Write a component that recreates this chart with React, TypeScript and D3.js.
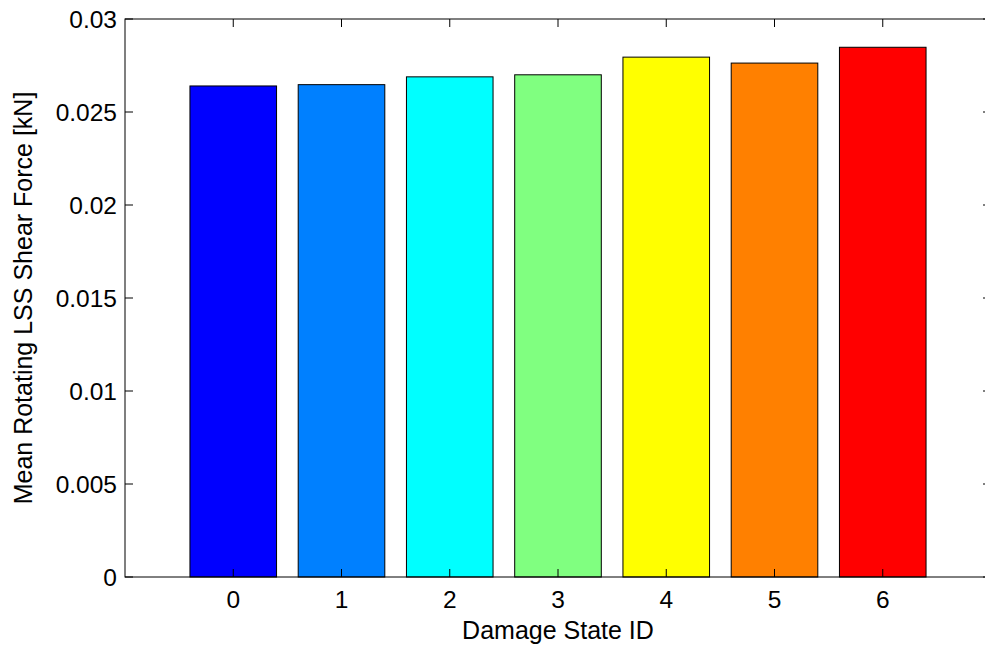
import React from "react";
import * as d3 from "d3";

const categories = [0, 1, 2, 3, 4, 5, 6];
const values = [0.0264, 0.02647, 0.02689, 0.027, 0.02795, 0.02763, 0.02848];
const colors = ["#0000ff", "#0080ff", "#00ffff", "#80ff80", "#ffff00", "#ff8000", "#ff0000"];
const yTicks = [0, 0.005, 0.01, 0.015, 0.02, 0.025, 0.03];
const yTickLabels = ["0", "0.005", "0.01", "0.015", "0.02", "0.025", "0.03"];

export default function App() {
  const W = 985, H = 648;
  const left = 125, right = 991, top = 19, bottom = 577;
  const x = d3.scaleLinear().domain([-1, 7]).range([left, right]);
  const y = d3.scaleLinear().domain([0, 0.03]).range([bottom, top]);
  const bw = x(0.4) - x(0);
  const font = "Arial, 'Liberation Sans', sans-serif";
  const fs = 24.5;
  const lfs = 25;
  const tl = 8;
  return (
    <svg width={W} height={H} style={{ position: "absolute", left: 0, top: 0, background: "#fff" }}>
      <rect x={0} y={0} width={W} height={H} fill="#fff" />
      {categories.map((c, i) => (
        <rect key={c} x={x(c) - bw} y={y(values[i])} width={bw * 2} height={y(0) - y(values[i])}
          fill={colors[i]} stroke="#000" strokeWidth={1} />
      ))}
      <rect x={left} y={top} width={right - left} height={bottom - top} fill="none" stroke="#000" strokeWidth={1} />
      {categories.map((c) => (
        <g key={"xt" + c}>
          <line x1={x(c)} x2={x(c)} y1={bottom} y2={bottom - tl} stroke="#000" />
          <line x1={x(c)} x2={x(c)} y1={top} y2={top + tl} stroke="#000" />
          <text x={x(c)} y={bottom + 31} textAnchor="middle" fontFamily={font} fontSize={fs}>{c}</text>
        </g>
      ))}
      {yTicks.map((t, i) => (
        <g key={"yt" + i}>
          <line x1={left} x2={left + tl} y1={y(t)} y2={y(t)} stroke="#000" />
          <line x1={right} x2={right - tl} y1={y(t)} y2={y(t)} stroke="#000" />
          <text x={left - 8} y={y(t) + 9} textAnchor="end" fontFamily={font} fontSize={fs}>{yTickLabels[i]}</text>
        </g>
      ))}
      <text x={(left + right) / 2} y={639} textAnchor="middle" fontFamily={font} fontSize={lfs}>Damage State ID</text>
      <text transform={`translate(32, ${(top + bottom) / 2}) rotate(-90)`} textAnchor="middle" fontFamily={font} fontSize={lfs}>
        Mean Rotating LSS Shear Force [kN]
      </text>
    </svg>
  );
}
